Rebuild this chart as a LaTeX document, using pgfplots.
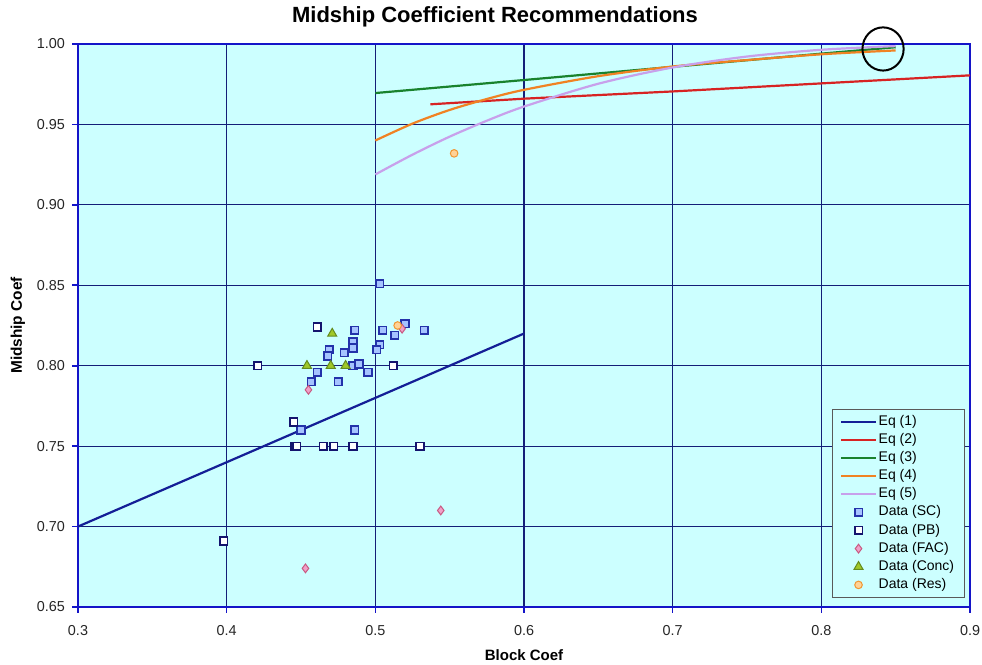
\documentclass[border=0pt]{standalone}
\usepackage{fontspec}
\setmainfont{Liberation Sans}
\usepackage{pgfplots}
\pgfplotsset{compat=1.18}
\usetikzlibrary{calc}

\definecolor{plotbg}{RGB}{204,255,255}
\definecolor{frameblue}{RGB}{20,20,200}
\definecolor{gridnavy}{RGB}{20,30,120}
\definecolor{eqone}{RGB}{20,30,150}
\definecolor{eqtwo}{RGB}{215,35,35}
\definecolor{eqthree}{RGB}{25,130,45}
\definecolor{eqfour}{RGB}{240,130,35}
\definecolor{eqfive}{RGB}{200,160,235}
\definecolor{scedge}{RGB}{35,50,170}
\definecolor{scfill}{RGB}{165,195,255}
\definecolor{pbedge}{RGB}{20,20,110}
\definecolor{facedge}{RGB}{200,90,130}
\definecolor{facfill}{RGB}{240,160,200}
\definecolor{concedge}{RGB}{100,140,30}
\definecolor{concfill}{RGB}{160,200,40}
\definecolor{resedge}{RGB}{240,150,50}
\definecolor{resfill}{RGB}{255,210,150}

\begin{document}
\begin{tikzpicture}
\begin{axis}[
  name=ax,
  scale only axis, width=446pt, height=281.5pt,
  xmin=0.3, xmax=0.9, ymin=0.65, ymax=1.0,
  xtick={0.3,0.4,0.5,0.6,0.7,0.8,0.9},
  xticklabels={0.3,0.4,0.5,0.6,0.7,0.8,0.9},
  ytick={0.65,0.70,0.75,0.80,0.85,0.90,0.95,1.00},
  yticklabels={0.65,0.70,0.75,0.80,0.85,0.90,0.95,1.00},
  xtick pos=left, ytick pos=left, tick align=outside, major tick length=3pt,
  tick style={frameblue, line width=0.8pt},
  ticklabel style={font=\fontsize{7.2}{8}\selectfont, text=black!85},
  xticklabel style={yshift=-2.5pt},
  grid=major, major grid style={gridnavy, line width=0.55pt},
  axis line style={frameblue, line width=1.2pt},
  axis background/.style={fill=plotbg},
  xlabel={Block Coef},
  xlabel style={at={(axis description cs:0.5,-0.085)}, anchor=center, font=\bfseries\fontsize{7.5}{9}\selectfont},
  ylabel={Midship Coef},
  ylabel style={at={(axis description cs:-0.0673,0.5)}, anchor=center, font=\bfseries\fontsize{7.7}{9}\selectfont},
  legend style={at={(0.994,0.016)}, anchor=south east, draw=black!65, line width=0.5pt,
    fill=plotbg, font=\fontsize{7}{8}\selectfont, row sep=0.5pt, inner xsep=4pt, inner ysep=2pt,
    nodes={inner sep=1pt}},
  legend cell align=left,
  clip=false,
]
% Eq (1): straight line
\addplot[eqone, line width=1.1pt] coordinates {(0.3,0.70) (0.6,0.82)};
\addlegendentry{Eq (1)}
% Eq (2)
\addplot[eqtwo, line width=1.1pt] coordinates {(0.537,0.9625) (0.6,0.966) (0.7,0.9705) (0.8,0.9755) (0.9,0.9805)};
\addlegendentry{Eq (2)}
% Eq (3)
\addplot[eqthree, line width=1.1pt] coordinates {(0.5,0.9695) (0.6,0.9776) (0.7,0.9858) (0.8,0.994) (0.85,0.998)};
\addlegendentry{Eq (3)}
% Eq (4)
\addplot[eqfour, line width=1.1pt, smooth] coordinates {(0.5,0.940) (0.525,0.9505) (0.55,0.959) (0.575,0.9658) (0.6,0.9715) (0.65,0.980) (0.7,0.986) (0.75,0.990) (0.8,0.9936) (0.85,0.996)};
\addlegendentry{Eq (4)}
% Eq (5)
\addplot[eqfive, line width=1.1pt, smooth] coordinates {(0.5,0.9189) (0.525,0.9312) (0.55,0.9424) (0.575,0.9523) (0.6,0.9611) (0.65,0.9753) (0.7,0.9854) (0.75,0.9922) (0.8,0.9964) (0.85,0.9987)};
\addlegendentry{Eq (5)}
% Data (SC)
\addplot[only marks, mark=square*, mark size=1.9pt, mark options={draw=scedge, fill=scfill, line width=0.8pt}] coordinates {
  (0.503,0.851) (0.486,0.822) (0.505,0.822) (0.520,0.826) (0.533,0.822) (0.513,0.819)
  (0.485,0.815) (0.485,0.811) (0.503,0.813) (0.501,0.810) (0.469,0.810) (0.468,0.806)
  (0.479,0.808) (0.461,0.796) (0.485,0.800) (0.489,0.801) (0.495,0.796) (0.457,0.790)
  (0.475,0.790) (0.450,0.760) (0.486,0.760)};
\addlegendentry{Data (SC)}
% Data (PB)
\addplot[only marks, mark=square*, mark size=1.9pt, mark options={draw=pbedge, fill=white, line width=0.8pt}] coordinates {
  (0.461,0.824) (0.421,0.800) (0.512,0.800) (0.445,0.765) (0.446,0.750) (0.447,0.750)
  (0.465,0.750) (0.472,0.750) (0.485,0.750) (0.530,0.750) (0.398,0.691)};
\addlegendentry{Data (PB)}
% Data (FAC)
\addplot[only marks, mark=diamond*, mark size=2.2pt, mark options={draw=facedge, fill=facfill, line width=0.5pt}] coordinates {
  (0.455,0.785) (0.453,0.674) (0.544,0.710) (0.518,0.823)};
\addlegendentry{Data (FAC)}
% Data (Conc)
\addplot[only marks, mark=triangle*, mark size=2.6pt, mark options={draw=concedge, fill=concfill, line width=0.5pt}] coordinates {
  (0.471,0.820) (0.454,0.800) (0.470,0.800) (0.480,0.800)};
\addlegendentry{Data (Conc)}
% Data (Res)
\addplot[only marks, mark=*, mark size=1.9pt, mark options={draw=resedge, fill=resfill, line width=0.5pt}] coordinates {
  (0.515,0.825) (0.553,0.932)};
\addlegendentry{Data (Res)}
% chart title
\node[font=\bfseries\fontsize{11}{13}\selectfont, anchor=center] at (rel axis cs:0.4675,1.048) {Midship Coefficient Recommendations};
% highlight ring around the converging curve ends
\draw[black, line width=1pt] (axis cs:0.8415,0.9969) ellipse [x radius=10.3pt, y radius=10.8pt];
\end{axis}
\pgfresetboundingbox
\path[use as bounding box] ($(ax.south west)+(-39pt,-29pt)$) rectangle ($(ax.north east)+(6pt,22pt)$);
\end{tikzpicture}
\end{document}
